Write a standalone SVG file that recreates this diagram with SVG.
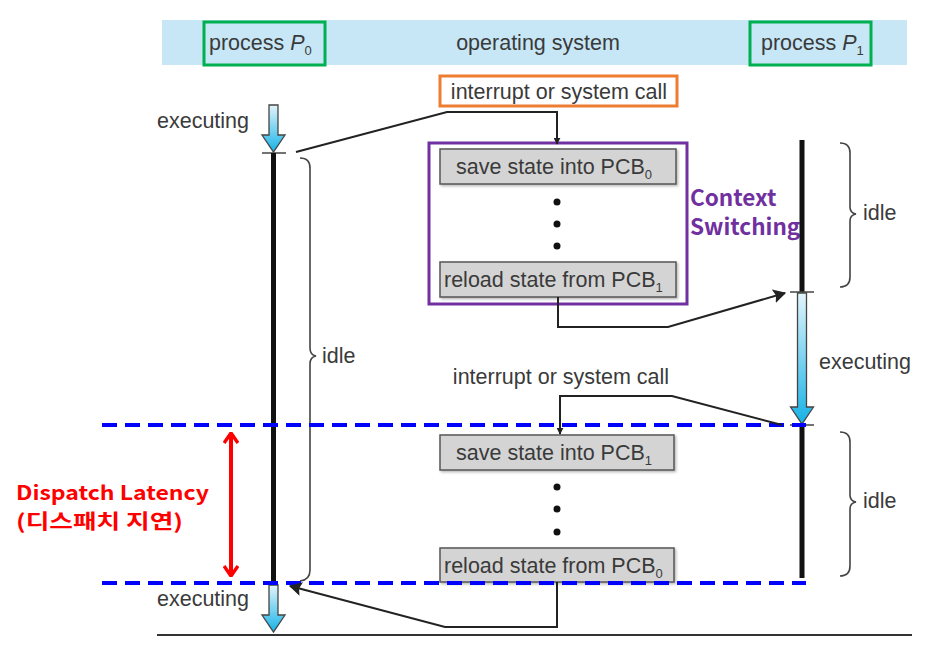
<svg xmlns="http://www.w3.org/2000/svg" width="945" height="662" viewBox="0 0 945 662">
<defs>
<linearGradient id="blueg" x1="0" y1="0" x2="0" y2="1">
<stop offset="0" stop-color="#e2f4fb"/>
<stop offset="1" stop-color="#16b2e6"/>
</linearGradient>
<marker id="ah" viewBox="0 0 10 10" refX="9" refY="5" markerWidth="7" markerHeight="7" orient="auto-start-reverse" markerUnits="userSpaceOnUse">
<path d="M0,0 L10,5 L0,10 z" fill="#222"/>
</marker>
<marker id="ahb" viewBox="0 0 12 12" refX="10" refY="6" markerWidth="14" markerHeight="14" orient="auto-start-reverse" markerUnits="userSpaceOnUse">
<path d="M0,0 L11,6 L0,12 L2,6 z" fill="#222"/>
</marker>
<marker id="red" viewBox="0 0 12 16" refX="11" refY="8" markerWidth="12" markerHeight="16" orient="auto-start-reverse" markerUnits="userSpaceOnUse">
<path d="M1,1 L11,8 L1,15" fill="none" stroke="#ff0000" stroke-width="3.5" stroke-linejoin="miter"/>
</marker>
<filter id="sh" x="-5%" y="-10%" width="110%" height="130%">
<feDropShadow dx="1.5" dy="1.5" stdDeviation="1" flood-color="#888" flood-opacity="0.6"/>
</filter>
</defs>
<style>
.t{font-family:"Liberation Sans",Arial,sans-serif;fill:#3a3a3a;}
.lbl{font-size:21.5px;}
.sub{font-size:13px;}
.box{fill:#d4d4d4;stroke:#555;stroke-width:1.5;}
.conn{fill:none;stroke:#222;stroke-width:2;}
.life{stroke:#111;stroke-width:5;}
.tick{stroke:#444;stroke-width:1.5;}
.brace{fill:none;stroke:#444;stroke-width:1.6;}
.dash{stroke:#0000ff;stroke-width:4;stroke-dasharray:15 8;}
.barrow{fill:url(#blueg);stroke:#444;stroke-width:1.3;}
.dot{fill:#111;}
.ko{font-family:"Noto Sans CJK KR","Noto Sans",sans-serif;font-weight:bold;}
</style>
<rect width="945" height="662" fill="#ffffff"/>

<g id="header">
<rect x="162" y="20" width="745" height="45" fill="#c7e7f6"/>
<text class="t lbl" x="538" y="50" text-anchor="middle">operating system</text>
</g>
<g id="processP0">
<rect x="204" y="22" width="121" height="43" fill="none" stroke="#00b050" stroke-width="3"/>
<text class="t lbl" x="209" y="50">process <tspan font-style="italic">P</tspan><tspan class="sub" dy="5">0</tspan></text>
</g>
<g id="processP1">
<rect x="750" y="22" width="121" height="43" fill="none" stroke="#00b050" stroke-width="3"/>
<text class="t lbl" x="761" y="50">process <tspan font-style="italic">P</tspan><tspan class="sub" dy="5">1</tspan></text>
</g>

<g id="interrupt1">
<rect x="440" y="76" width="237" height="30" fill="#fff" stroke="#ed7d31" stroke-width="3"/>
<text class="t lbl" x="559" y="99" text-anchor="middle">interrupt or system call</text>
</g>

<g id="contextSwitch">
<rect x="429" y="143" width="258" height="161" fill="none" stroke="#7030a0" stroke-width="3"/>
<text class="ko" font-size="22.5" fill="#7030a0"><tspan x="690" y="206">Context</tspan><tspan x="690" y="235">Switching</tspan></text>
</g>

<g id="save0">
<rect class="box" x="440" y="149" width="236" height="35" filter="url(#sh)"/>
<text class="t lbl" x="456" y="174">save state into PCB<tspan class="sub" dy="5">0</tspan></text>
</g>
<g id="dots1">
<circle class="dot" cx="557" cy="202" r="3.5"/>
<circle class="dot" cx="557" cy="224" r="3.5"/>
<circle class="dot" cx="557" cy="246" r="3.5"/>
</g>
<g id="reload1">
<rect class="box" x="440" y="262" width="236" height="35" filter="url(#sh)"/>
<text class="t lbl" x="444" y="287">reload state from PCB<tspan class="sub" dy="5">1</tspan></text>
</g>

<g id="interrupt2">
<text class="t lbl" x="561" y="384" text-anchor="middle">interrupt or system call</text>
</g>
<g id="save1">
<rect class="box" x="440" y="435" width="234" height="35" filter="url(#sh)"/>
<text class="t lbl" x="456" y="460">save state into PCB<tspan class="sub" dy="5">1</tspan></text>
</g>
<g id="dots2">
<circle class="dot" cx="557" cy="487" r="3.5"/>
<circle class="dot" cx="557" cy="509" r="3.5"/>
<circle class="dot" cx="557" cy="532" r="3.5"/>
</g>
<g id="reload0">
<rect class="box" x="440" y="548" width="234" height="34" filter="url(#sh)"/>
<text class="t lbl" x="444" y="573">reload state from PCB<tspan class="sub" dy="5">0</tspan></text>
</g>

<g id="timelineP0">
<polygon class="barrow" points="269,105 278,105 278,135 285,135 273.5,152 262,135 269,135"/>
<line class="tick" x1="262" y1="153" x2="286" y2="153"/>
<line class="life" x1="273.5" y1="153" x2="273.5" y2="584"/>
<polygon class="barrow" points="269,585 278,585 278,615 285,615 273.5,632 262,615 269,615"/>
<text class="t lbl" x="157" y="128">executing</text>
<text class="t lbl" x="157" y="606">executing</text>
<path class="brace" d="M300,158 Q310,158 310,168 L310,348 Q310,355 316,356 Q310,357 310,364 L310,570 Q310,580 300,581"/>
<text class="t lbl" x="322" y="363">idle</text>
</g>

<g id="timelineP1">
<line class="life" x1="802" y1="140" x2="802" y2="292"/>
<line class="tick" x1="790" y1="292" x2="814" y2="292"/>
<polygon class="barrow" points="797.5,293 806.5,293 806.5,407 813.5,407 802,424 790.5,407 797.5,407"/>
<line class="tick" x1="790" y1="425" x2="814" y2="425"/>
<line class="life" x1="802" y1="425" x2="802" y2="578"/>
<text class="t lbl" x="819" y="369">executing</text>
<path class="brace" d="M840,143 Q850,143 850,153 L850,207 Q850,213 856,214 Q850,215 850,221 L850,277 Q850,287 840,287"/>
<text class="t lbl" x="863" y="220">idle</text>
<path class="brace" d="M840,432 Q850,432 850,442 L850,495 Q850,501 856,502 Q850,503 850,509 L850,566 Q850,576 840,576"/>
<text class="t lbl" x="863" y="508">idle</text>
</g>

<g id="baseline">
<line x1="157" y1="635" x2="912" y2="635" stroke="#333" stroke-width="2"/>
</g>

<g id="latency">
<line class="dash" x1="102" y1="425" x2="806" y2="425"/>
<line class="dash" x1="102" y1="583" x2="806" y2="583"/>
<line x1="231" y1="433" x2="231" y2="576" stroke="#ff0000" stroke-width="4" marker-start="url(#red)" marker-end="url(#red)"/>
<text class="ko" font-size="20" fill="#ff0000"><tspan x="16" y="500" textLength="193" lengthAdjust="spacingAndGlyphs">Dispatch Latency</tspan><tspan x="16" y="529" textLength="167" lengthAdjust="spacingAndGlyphs">(디스패치 지연)</tspan></text>
</g>

<g id="connectors">
<polyline class="conn" points="296,152 447,112 557,112 557,144" marker-end="url(#ah)"/>
<polyline class="conn" points="558,297 558,327 668,327 785,293" marker-end="url(#ahb)"/>
<polyline class="conn" points="782,425 672,396 560,396 560,434" marker-end="url(#ah)"/>
<polyline class="conn" points="557,582 557,627 445,627 290,586" marker-end="url(#ahb)"/>
</g>
</svg>
